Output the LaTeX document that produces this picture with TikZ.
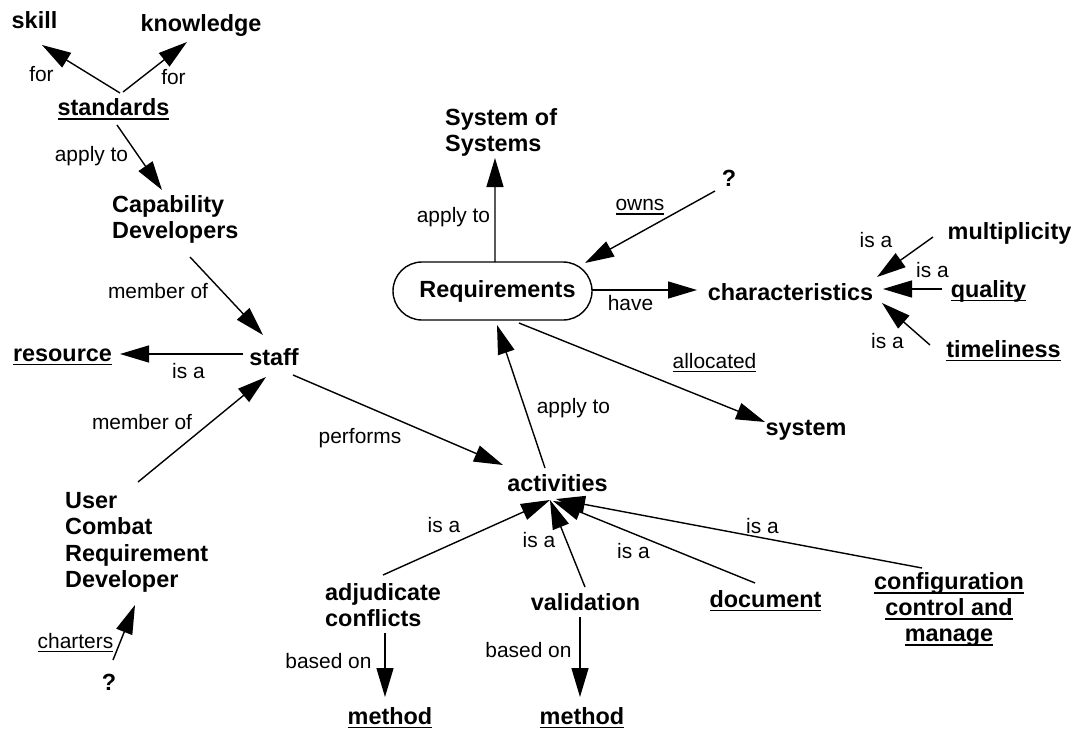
\documentclass[tikz,border=0pt]{standalone}
\usepackage{fontspec}
\setmainfont{Liberation Sans}
\usetikzlibrary{arrows.meta}

% underlined text: gap below the baseline, rule thickness, text
\newcommand{\ulline}[3]{\begingroup\setbox0\hbox{#3}\dp0=0pt
  \vtop{\box0\kern#1\hrule height #2}\endgroup}
\newcommand{\ulbold}[1]{\ulline{2.5bp}{1.9bp}{#1}}
\newcommand{\ullight}[1]{\ulline{2.5bp}{1.2bp}{#1}}

\tikzset{
  concept/.style={font=\fontsize{23.5}{26.5}\selectfont\bfseries, inner sep=0pt},
  rel/.style={font=\fontsize{21}{24}\selectfont, inner sep=0pt},
  arr/.style={-{Triangle[length=29bp,width=17bp]}, line width=1.4bp},
}

\begin{document}
\begin{tikzpicture}[x=1bp, y=-1bp]
\useasboundingbox (0,0) rectangle (1075,730);

% ---- concepts ----
\node[concept, anchor=base] (skill) at (34.5,29) {skill};
\node[concept, anchor=base] (know)  at (201,32) {knowledge};
\node[concept, anchor=base] (std)   at (113.5,116) {\ulbold{standards}};
\node[concept, anchor=north west, align=left] (cap) at (112,195) {Capability\\Developers};
\node[concept, anchor=base] (staff) at (274,365) {staff};
\node[concept, anchor=base] (res)   at (62.5,361) {\ulbold{resource}};
\node[concept, anchor=north west, align=left] (ucrd) at (65,492) {User\\Combat\\Requirement\\Developer};
\node[concept, anchor=base] (q1)    at (109,690) {?};

\node[concept, draw, line width=1.4bp, minimum width=199bp, minimum height=58bp,
      rounded corners=29bp] (req) at (492.5,291) {\hspace{10bp}Requirements};
\node[concept, anchor=north west, align=left] (sos) at (445,108) {System of\\Systems};
\node[concept, anchor=base] (q2)    at (729,187) {?};
\node[concept, anchor=base] (char)  at (790.5,300) {characteristics};
\node[concept, anchor=base] (mult)  at (1009.5,239) {multiplicity};
\node[concept, anchor=base] (qual)  at (988.5,297) {\ulbold{quality}};
\node[concept, anchor=base] (time)  at (1003.5,357) {\ulbold{timeliness}};
\node[concept, anchor=base] (sys)   at (806,435) {system};

\node[concept, anchor=base] (act)   at (557.5,491) {activities};
\node[concept, anchor=north west, align=left] (adj) at (325,583) {adjudicate\\conflicts};
\node[concept, anchor=base] (val)   at (585.5,610) {validation};
\node[concept, anchor=base] (doc)   at (765.5,607) {\ulbold{document}};
\node[concept, anchor=north, align=center] (conf) at (949,572)
      {\ulbold{configuration}\\\ulbold{control and}\\\ulbold{manage}};
\node[concept, anchor=base] (methA) at (390,724) {\ulbold{method}};
\node[concept, anchor=base] (methB) at (582,724) {\ulbold{method}};

% ---- connectors ----
\draw[arr] ([shift={(6.5,-23)}]std.base) -- ([shift={(7.5,16)}]skill.base);
\draw[arr] ([shift={(9.5,-24)}]std.base) -- ([shift={(-14,10)}]know.base);
\draw[arr] ([shift={(3.5,9)}]std.base) -- ([shift={(50,-5)}]cap.north west);
\draw[arr] ([shift={(78,62)}]cap.north west) -- ([shift={(-11,-30)}]staff.base);
\draw[arr] ([shift={(-31,-11)}]staff.base) -- ([shift={(57.5,-7)}]res.base);
\draw[arr] ([shift={(73,-10)}]ucrd.north west) -- ([shift={(-8,12)}]staff.base);
\draw[arr] ([shift={(19,10)}]staff.base) -- ([shift={(-54.5,-26)}]act.base);
\draw[arr] ([shift={(4,-30)}]q1.base) -- ([shift={(70,113)}]ucrd.north west);

\draw[arr] ([shift={(2.5,-29)}]req.center) -- ([shift={(50,50)}]sos.north west);
\draw[arr] ([shift={(-14,4)}]q2.base) -- ([shift={(92.5,-28)}]req.center);
\draw[arr] ([shift={(99.5,-1)}]req.center) -- ([shift={(-93.5,-10)}]char.base);
\draw[arr] ([shift={(-76.5,-2)}]mult.base) -- ([shift={(86.5,-23)}]char.base);
\draw[arr] ([shift={(-46.5,-8)}]qual.base) -- ([shift={(92.5,-11)}]char.base);
\draw[arr] ([shift={(-73.5,-12)}]time.base) -- ([shift={(91.5,3)}]char.base);
\draw[arr] ([shift={(26.5,32)}]req.center) -- ([shift={(-41,-13)}]sys.base);
\draw[arr] ([shift={(-12.5,-23)}]act.base) -- ([shift={(4.5,34)}]req.center);

\draw[arr] ([shift={(58,-8)}]adj.north west) -- ([shift={(-7.5,9)}]act.base);
\draw[arr] ([shift={(-0.5,-23)}]val.base) -- ([shift={(-7.5,9)}]act.base);
\draw[arr] ([shift={(-10.5,-24)}]doc.base) -- ([shift={(-4.5,10)}]act.base);
\draw[arr] ([shift={(-27,-4)}]conf.north) -- ([shift={(-1.5,8)}]act.base);
\draw[arr] ([shift={(60,50)}]adj.north west) -- ([shift={(-5,-27)}]methA.base);
\draw[arr] ([shift={(-5.5,7)}]val.base) -- ([shift={(-2,-27)}]methB.base);

% ---- relation labels ----
\node[rel, anchor=base] (lForA)   at (41.5,82)  {for};
\node[rel, anchor=base] (lForB)   at (173.5,85) {for};
\node[rel, anchor=base] (lApplyA) at (91.5,162) {apply to};
\node[rel, anchor=base] (lMemA)   at (158,298)  {member of};
\node[rel, anchor=base] (lIsRes)  at (188.5,378) {is a};
\node[rel, anchor=base] (lMemB)   at (142,429)  {member of};
\node[rel, anchor=base] (lPerf)   at (360,443)  {performs};
\node[rel, anchor=base] (lChart)  at (75.5,648) {\ullight{charters}};
\node[rel, anchor=base] (lApplyB) at (453.5,222) {apply to};
\node[rel, anchor=base] (lOwns)   at (640,211)  {\ullight{owns}};
\node[rel, anchor=base] (lHave)   at (630.5,310) {have};
\node[rel, anchor=base] (lIsM)    at (876,247)  {is a};
\node[rel, anchor=base] (lIsQ)    at (932.5,277) {is a};
\node[rel, anchor=base] (lIsT)    at (887.5,348) {is a};
\node[rel, anchor=base] (lAlloc)  at (714.5,368) {\ullight{allocated}};
\node[rel, anchor=base] (lApplyC) at (573.5,413) {apply to};
\node[rel, anchor=base] (lIsAdj)  at (444,532)  {is a};
\node[rel, anchor=base] (lIsVal)  at (539,547)  {is a};
\node[rel, anchor=base] (lIsDoc)  at (633.5,558) {is a};
\node[rel, anchor=base] (lIsConf) at (762.5,533) {is a};
\node[rel, anchor=base] (lBasedA) at (328.5,668) {based on};
\node[rel, anchor=base] (lBasedB) at (528.5,657) {based on};
\end{tikzpicture}
\end{document}
